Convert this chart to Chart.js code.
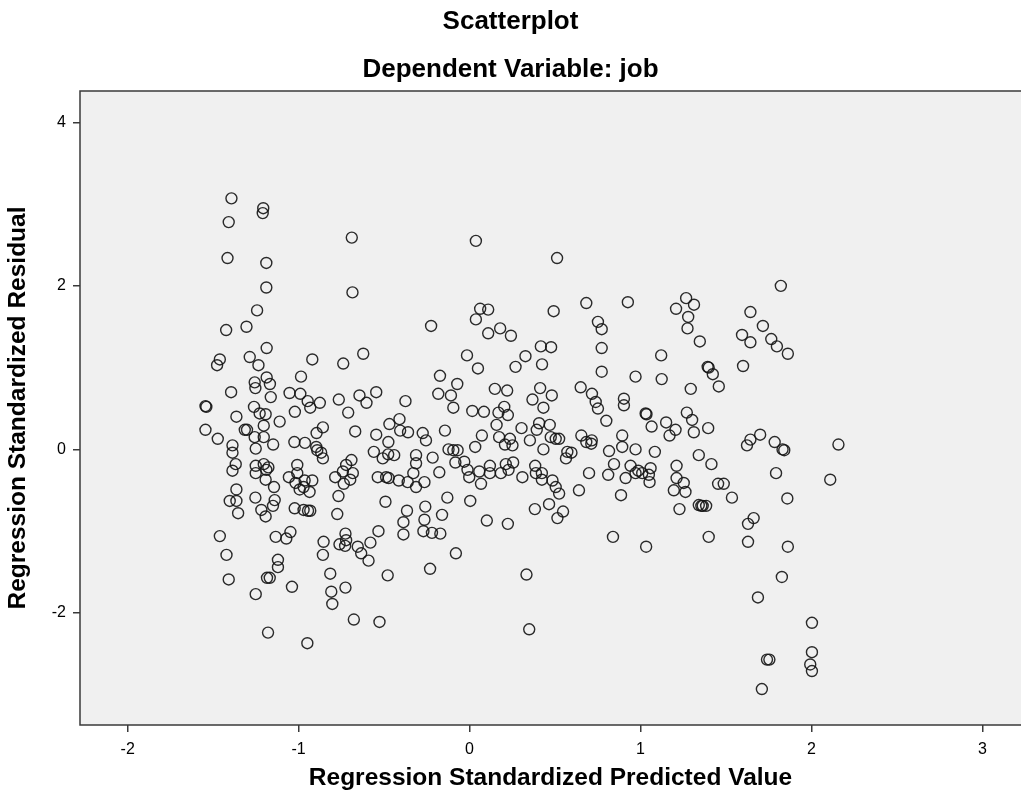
<!DOCTYPE html>
<html>
<head>
<meta charset="utf-8">
<script src="https://cdn.jsdelivr.net/npm/chart.js@4"></script>
<style>
  html, body { margin: 0; padding: 0; background: #fff; }
  #wrap { width: 1021px; height: 804px; }
</style>
</head>
<body>
<div id="wrap"><canvas id="myChart" width="1021" height="804"></canvas></div>
<script>
const xTicks = [-2, -1, 0, 1, 2, 3];
const yTicks = [-2, 0, 2, 4];

// regression standardized predicted value (x) and residual (y), one entry per case
const predicted = [
  -1.393, -1.207, -1.21, -1.409, -0.689, -1.416, -1.189, -1.189, -0.685, -1.243,
  -1.424, -1.305, -1.187, -1.461, -1.477, -1.286, -1.235, -0.92, -0.739, -0.622,
  -0.986, -1.187, -1.257, -1.168, -1.253, -1.395, -1.163, -1.053, -0.99, -0.947,
  -0.932, -0.876, -0.765, -0.644, -0.603, -0.546, -0.375, -1.545, -1.54, -1.261,
  -1.228, -1.193, -1.364, -1.022, -0.71, -1.111, -1.204, -1.545, -1.473, -1.315,
  -1.302, -0.858, -0.895, -0.669, -0.469, -0.41, -0.406, -0.36, -0.546, -0.475,
  -1.257, -1.204, -1.149, -1.387, -1.025, -0.963, -0.897,
  -1.387, -1.251, -0.891, -0.868, -0.858, -0.56, -0.508, -0.476, -0.441, -0.313,
  -0.313, -1.368, -1.387, -1.251, -1.251, -1.204, -1.189, -1.177, -1.193, -1.144,
  -1.008, -1.008, -1.057, -1.018, -0.965, -0.92, -0.994, -0.936, -0.971, -0.786,
  -0.741, -0.722, -0.691, -0.683, -0.698, -0.736, -0.537, -0.488, -0.473, -0.414,
  -0.362, -0.329, -0.313, -1.364, -1.403, -1.364, -1.354, -1.253, -1.218, -1.193,
  -1.14, -1.15, -1.023, -0.971, -0.945, -0.932, -0.767, -0.774, -0.492, -0.366,
  -0.387, -0.387, -1.461, -1.134, -1.072, -1.048, -0.854, -0.858, -0.726, -0.761,
  -0.722, -0.728, -0.654, -0.634, -0.58, -0.533, -0.591, -1.422, -1.121, -1.121,
  -1.169, -1.185, -1.039, -1.409, -1.251, -0.815, -0.809, -0.803, -0.726, -0.479,
  -0.677, -0.527, -1.179, -0.949,
  0.037, 0.512, 0.062, 0.109, 0.037, 0.683, 0.926, 0.492, -0.225, 0.109,
  0.179, 0.242, 0.751, 0.773, 0.773, 0.417, 0.477, -0.015, 0.049, 0.327,
  0.269, 0.424, 0.773, 0.971, -0.173, -0.072, -0.183, -0.109, -0.095, 0.148,
  0.22, 0.413, 0.368, 0.481, 0.432, 0.65, 0.716, 0.738, 0.751, 0.903,
  0.903, 0.80, 0.016, 0.084, 0.203, 0.169, 0.224, 0.158, -0.144, -0.274,
  -0.255, 0.072, 0.033, 0.304, 0.407, 0.393, 0.469, 0.173, 0.236, 0.207,
  0.251, 0.353, 0.432, 0.475, 0.504, 0.524, 0.654, 0.683, 0.712, 0.715,
  0.893, 0.893, 0.816, 0.971, -0.123, -0.095, -0.07, -0.216, 0.572, 0.596,
  0.564, -0.264, -0.177, -0.083, -0.031, -0.012, -0.002, 0.057, 0.067, 0.119,
  0.119, 0.183, 0.212, 0.228, 0.255, 0.309, 0.384, 0.388, 0.423, 0.423,
  0.485, 0.504, 0.524, 0.514, 0.547, 0.465, 0.382, 0.699, 0.64, 0.811,
  0.845, 0.913, 0.942, 0.971, 0.987, 0.886, -0.13, 0.004, -0.259, -0.161,
  -0.264, -0.27, -0.22, -0.171, 0.101, 0.224, 0.839, -0.08, -0.231, 0.333,
  0.349,
  1.821, 1.267, 1.313, 1.208, 1.279, 1.275, 1.347, 1.643, 1.716, 1.594,
  1.643, 1.765, 1.798, 1.862, 1.60, 1.121, 1.124, 1.393, 1.399, 1.423,
  1.458, 1.294, 1.03, 1.035, 1.065, 1.15, 1.205, 1.17, 1.271, 1.302,
  1.312, 1.396, 1.70, 1.643, 1.623, 1.785, 1.831, 1.841, 2.158, 1.084,
  1.341, 1.415, 1.01, 1.059, 1.049, 1.053, 1.211, 1.211, 1.253, 1.263,
  1.195, 1.228, 1.341, 1.364, 1.384, 1.356, 1.454, 1.487, 1.535, 1.793,
  2.11, 1.859, 1.662, 1.629, 1.399, 1.629, 1.862, 1.033, 1.827, 1.687,
  2.003, 1.74, 1.754, 2.003, 1.993, 2.003, 1.71
];
const residual = [
  3.07, 2.95, 2.89, 2.78, 2.59, 2.34, 2.28, 1.98, 1.92, 1.70,
  1.46, 1.50, 1.24, 1.10, 1.03, 1.13, 1.03, 1.10, 1.05, 1.17,
  0.89, 0.88, 0.82, 0.80, 0.75, 0.70, 0.64, 0.69, 0.68, 0.59,
  0.51, 0.57, 0.61, 0.66, 0.57, 0.70, 0.59, 0.53, 0.52, 0.52,
  0.44, 0.43, 0.40, 0.46, 0.45, 0.34, 0.29, 0.24, 0.13, 0.24,
  0.24, 0.27, 0.20, 0.22, 0.31, 0.37, 0.23, 0.21, 0.18, 0.09,
  0.15, 0.15, 0.06, 0.05, 0.09, 0.08, 0.03,
  -0.04, 0.01, -0.01, -0.04, -0.11, -0.03, -0.11, -0.06, -0.07, -0.07,
  -0.17, -0.18, -0.26, -0.20, -0.29, -0.18, -0.25, -0.22, -0.37, -0.46,
  -0.19, -0.29, -0.34, -0.41, -0.38, -0.38, -0.49, -0.52, -0.46, -0.34,
  -0.27, -0.19, -0.13, -0.29, -0.37, -0.42, -0.34, -0.34, -0.35, -0.38,
  -0.40, -0.29, -0.46, -0.49, -0.63, -0.63, -0.78, -0.59, -0.74, -0.82,
  -0.62, -0.69, -0.72, -0.74, -0.75, -0.75, -0.57, -0.79, -0.64, -0.75,
  -0.89, -1.04, -1.06, -1.07, -1.09, -1.01, -1.13, -1.29, -1.03, -1.16,
  -1.11, -1.18, -1.19, -1.27, -1.14, -1.00, -1.36, -1.29, -1.35, -1.44,
  -1.57, -1.57, -1.68, -1.59, -1.77, -1.52, -1.74, -1.89, -1.69, -1.54,
  -2.08, -2.11, -2.24, -2.37,
  2.55, 2.34, 1.72, 1.71, 1.59, 1.79, 1.80, 1.69, 1.51, 1.42,
  1.48, 1.39, 1.56, 1.47, 1.24, 1.26, 1.25, 1.15, 0.99, 1.14,
  1.01, 1.04, 0.95, 0.89, 0.90, 0.80, 0.68, 0.66, 0.51, 0.74,
  0.72, 0.75, 0.61, 0.66, 0.51, 0.76, 0.68, 0.58, 0.50, 0.62,
  0.54, 0.35, 0.47, 0.46, 0.52, 0.45, 0.42, 0.30, 0.23, 0.20,
  0.11, 0.17, 0.03, 0.26, 0.32, 0.24, 0.30, 0.15, 0.13, 0.06,
  0.05, 0.11, 0.00, 0.15, 0.13, 0.13, 0.17, 0.09, 0.07, 0.11,
  0.17, 0.03, -0.02, 0.00, 0.00, -0.01, -0.01, -0.10, -0.03, -0.04,
  -0.11, -0.40, -0.28, -0.16, -0.15, -0.25, -0.34, -0.27, -0.42, -0.20,
  -0.29, -0.29, -0.18, -0.25, -0.16, -0.34, -0.20, -0.29, -0.29, -0.37,
  -0.38, -0.46, -0.54, -0.84, -0.76, -0.67, -0.73, -0.29, -0.50, -0.31,
  -0.18, -0.35, -0.20, -0.29, -0.26, -0.56, -0.59, -0.63, -0.70, -0.80,
  -0.86, -1.00, -1.02, -1.03, -0.87, -0.91, -1.07, -1.27, -1.46, -1.53,
  -2.20,
  2.00, 1.85, 1.77, 1.72, 1.62, 1.48, 1.32, 1.68, 1.51, 1.40,
  1.31, 1.35, 1.26, 1.17, 1.02, 1.15, 0.86, 1.01, 1.00, 0.92,
  0.77, 0.74, 0.44, 0.43, 0.28, 0.33, 0.24, 0.17, 0.45, 0.36,
  0.21, 0.26, 0.18, 0.12, 0.05, 0.09, 0.00, -0.01, 0.06, -0.03,
  -0.07, -0.18, -0.29, -0.23, -0.31, -0.40, -0.20, -0.35, -0.41, -0.52,
  -0.50, -0.73, -0.68, -0.69, -0.69, -0.69, -0.42, -0.42, -0.59, -0.29,
  -0.37, -0.60, -0.84, -0.91, -1.07, -1.13, -1.19, -1.19, -1.56, -1.81,
  -2.12, -2.57, -2.57, -2.48, -2.63, -2.71, -2.93
];

const points = predicted.map((x, i) => ({ x: x, y: residual[i] }));

const frame = {
  id: "frame",
  beforeDraw(chart) {
    const { ctx, chartArea: a } = chart;
    ctx.save();
    ctx.fillStyle = "#f0f0f0";
    ctx.fillRect(a.left, a.top, a.right - a.left, a.bottom - a.top);
    ctx.restore();
  },
  afterDraw(chart) {
    const { ctx, chartArea: a } = chart;
    ctx.save();
    ctx.strokeStyle = "#3a3a3a";
    ctx.lineWidth = 1.5;
    ctx.beginPath();
    ctx.moveTo(a.right + 2, a.top);
    ctx.lineTo(a.left, a.top);
    ctx.lineTo(a.left, a.bottom);
    ctx.lineTo(a.right + 2, a.bottom);
    ctx.stroke();
    ctx.restore();
  },
};

const font = "'Liberation Sans', Arial, sans-serif";

new Chart(document.getElementById("myChart"), {
  type: "scatter",
  data: {
    datasets: [
      {
        data: points,
        pointStyle: "circle",
        pointRadius: 5.5,
        pointBorderWidth: 1.4,
        pointBackgroundColor: "rgba(0,0,0,0)",
        pointBorderColor: "rgba(20,20,20,0.9)",
      },
    ],
  },
  options: {
    responsive: false,
    animation: false,
    layout: { autoPadding: false, padding: 0 },
    plugins: {
      legend: { display: false },
      tooltip: { enabled: false },
      title: {
        display: true,
        text: "Scatterplot",
        color: "#000",
        font: { family: font, size: 26, weight: "bold" },
        padding: { top: 6.4, bottom: 16.8 },
      },
      subtitle: {
        display: true,
        text: "Dependent Variable: job",
        color: "#000",
        font: { family: font, size: 26, weight: "bold" },
        padding: { top: 0, bottom: 5.4 },
      },
    },
    scales: {
      x: {
        type: "linear",
        min: -2.279,
        max: 3.226,
        afterBuildTicks: (s) => { s.ticks = xTicks.map((v) => ({ value: v })); },
        afterFit: (s) => { s.height = 79; },
        grid: { drawOnChartArea: false, drawTicks: true, tickLength: 7, color: "#3a3a3a", lineWidth: 1.5 },
        border: { display: false },
        ticks: { color: "#000", padding: 8, font: { family: font, size: 16 }, maxRotation: 0 },
        title: {
          display: true,
          text: "Regression Standardized Predicted Value",
          color: "#000",
          font: { family: font, size: 24.5, weight: "bold" },
          padding: { top: 4, bottom: 11.3 },
        },
      },
      y: {
        type: "linear",
        min: -3.37,
        max: 4.383,
        afterBuildTicks: (s) => { s.ticks = yTicks.map((v) => ({ value: v })); },
        afterFit: (s) => { s.width = 80; },
        grid: { drawOnChartArea: false, drawTicks: true, tickLength: 7, color: "#3a3a3a", lineWidth: 1.5 },
        border: { display: false },
        ticks: { color: "#000", padding: 7, font: { family: font, size: 16 } },
        title: {
          display: true,
          text: "Regression Standardized Residual",
          color: "#000",
          font: { family: font, size: 24.5, weight: "bold" },
          padding: { top: 3.3, bottom: 4 },
        },
      },
    },
  },
  plugins: [frame],
});
</script>
</body>
</html>
